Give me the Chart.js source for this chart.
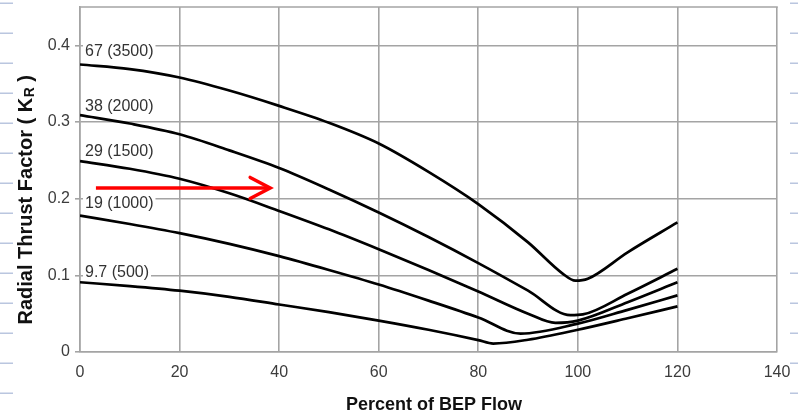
<!DOCTYPE html>
<html><head><meta charset="utf-8">
<script src="https://cdn.jsdelivr.net/npm/chart.js@4.4.1/dist/chart.umd.min.js"></script>
<style>html,body{margin:0;padding:0;background:#fff;}</style>
</head><body>
<canvas id="c" width="798" height="412"></canvas>
<script>
// ---- data ----
const seriesNames = ['67 (3500)', '38 (2000)', '29 (1500)', '19 (1000)', '9.7 (500)'];

const x67 = [0, 10, 20, 30, 40, 50, 60, 70, 80, 90, 97, 99.5, 102, 110, 120];
const y67 = [0.375, 0.369, 0.358, 0.341, 0.321, 0.299, 0.272, 0.235, 0.193, 0.143, 0.102, 0.093, 0.0955, 0.130, 0.169];

const x38 = [0, 10, 20, 30, 40, 50, 60, 70, 80, 90, 98.5, 101, 110, 120];
const y38 = [0.309, 0.298, 0.284, 0.263, 0.240, 0.212, 0.182, 0.150, 0.116, 0.080, 0.048, 0.049, 0.076, 0.1085];

const x29 = [0, 10, 20, 30, 40, 50, 60, 70, 80, 90, 95.5, 100, 110, 120];
const y29 = [0.249, 0.239, 0.226, 0.207, 0.184, 0.160, 0.134, 0.107, 0.079, 0.050, 0.038, 0.041, 0.065, 0.091];

const x19 = [0, 10, 20, 30, 40, 50, 60, 70, 80, 88.5, 100, 110, 120];
const y19 = [0.178, 0.167, 0.155, 0.141, 0.125, 0.107, 0.088, 0.067, 0.045, 0.024, 0.037, 0.055, 0.0738];

const x97 = [0, 10, 20, 30, 40, 50, 60, 70, 80, 83, 90, 100, 110, 120];
const y97 = [0.091, 0.086, 0.080, 0.072, 0.062, 0.052, 0.041, 0.029, 0.0155, 0.011, 0.016, 0.029, 0.044, 0.0595];

const seriesX = [x67, x38, x29, x19, x97];
const seriesY = [y67, y38, y29, y19, y97];

// curve label anchors (data units)
const labelX = [1, 1, 1, 1, 1];
const labelY = [0.392, 0.3197, 0.2616, 0.1931, 0.1041];

const xTickValues = [0, 20, 40, 60, 80, 100, 120, 140];
const xTickLabels = ['0', '20', '40', '60', '80', '100', '120', '140'];
const yTickValues = [0, 0.1, 0.2, 0.3, 0.4];
const yTickLabels = ['0', '0.1', '0.2', '0.3', '0.4'];
const yMax = 0.45;

const xTitle = 'Percent of BEP Flow';
const yTitleMain = 'Radial Thrust Factor ( K';
const yTitleSub = 'R';
const yTitleEnd = ' )';

// red arrow (data units)
const arrowFrom = [3.2, 0.214];
const arrowTo = [38.2, 0.214];

// ---- styles ----
const FONT = "'Liberation Sans', Arial, Helvetica, sans-serif";
const GRID = '#a4a4a4';

const datasets = seriesNames.map((name, i) => ({
  label: name,
  data: seriesX[i].map((x, j) => ({ x: x, y: seriesY[i][j] })),
  borderColor: '#000',
  borderWidth: 2.7,
  pointRadius: 0,
  fill: false,
  showLine: true,
  cubicInterpolationMode: 'monotone'
}));

const decor = {
  id: 'decor',
  beforeDraw(chart) {
    const ctx = chart.ctx;
    ctx.save();
    ctx.fillStyle = '#fff';
    ctx.fillRect(0, 0, chart.width, chart.height);
    ctx.strokeStyle = '#bac6df';
    ctx.lineWidth = 1.5;
    for (let y = 3.3; y < chart.height; y += 30) {
      ctx.beginPath();
      ctx.moveTo(0, y); ctx.lineTo(13, y);
      ctx.moveTo(790, y); ctx.lineTo(chart.width, y);
      ctx.stroke();
    }
    ctx.restore();
  },
  beforeDatasetsDraw(chart) {
    const ctx = chart.ctx;
    const xs = chart.scales.x, ys = chart.scales.y;
    const a = chart.chartArea;
    ctx.save();
    // top frame line at yMax
    ctx.strokeStyle = GRID;
    ctx.lineWidth = 1.6;
    ctx.beginPath();
    ctx.moveTo(a.left, ys.getPixelForValue(yMax));
    ctx.lineTo(a.right + 0.8, ys.getPixelForValue(yMax));
    ctx.stroke();
    ctx.font = '16px ' + FONT;
    ctx.textBaseline = 'middle';
    ctx.textAlign = 'left';
    seriesNames.forEach((t, i) => {
      const px = xs.getPixelForValue(labelX[i]);
      const py = ys.getPixelForValue(labelY[i]);
      const w = ctx.measureText(t).width;
      ctx.fillStyle = '#fff';
      ctx.fillRect(px - 2, py - 8.5, w + 4, 17);
      ctx.fillStyle = '#333';
      ctx.fillText(t, px, py);
    });
    ctx.restore();
  },
  afterDatasetsDraw(chart) {
    const ctx = chart.ctx;
    const xs = chart.scales.x, ys = chart.scales.y;
    const x0 = xs.getPixelForValue(arrowFrom[0]), y0 = ys.getPixelForValue(arrowFrom[1]);
    const x1 = xs.getPixelForValue(arrowTo[0]), y1 = ys.getPixelForValue(arrowTo[1]);
    ctx.save();
    ctx.strokeStyle = '#ff0000';
    ctx.lineWidth = 3.5;
    ctx.lineCap = 'butt';
    ctx.beginPath();
    ctx.moveTo(x0, y0); ctx.lineTo(x1 - 1, y1);
    ctx.stroke();
    ctx.lineCap = 'round';
    ctx.lineJoin = 'miter';
    ctx.beginPath();
    ctx.moveTo(x1 - 20, y1 - 10.5);
    ctx.lineTo(x1, y1);
    ctx.lineTo(x1 - 20, y1 + 10.5);
    ctx.stroke();
    ctx.restore();
  },
  afterDraw(chart) {
    const ctx = chart.ctx;
    ctx.save();
    ctx.fillStyle = '#111';
    ctx.font = 'bold 18px ' + FONT;
    ctx.textAlign = 'center';
    ctx.textBaseline = 'alphabetic';
    ctx.fillText(xTitle, 434, 410);
    // y title rotated
    ctx.translate(32, 200);
    ctx.rotate(-Math.PI / 2);
    ctx.textAlign = 'left';
    const fMain = 'bold 20px ' + FONT, fSub = 'bold 14px ' + FONT;
    ctx.font = fMain; const w1 = ctx.measureText(yTitleMain).width;
    ctx.font = fSub; const w2 = ctx.measureText(yTitleSub).width;
    ctx.font = fMain; const w3 = ctx.measureText(yTitleEnd).width;
    let sx = -(w1 + w2 + w3) / 2;
    ctx.font = fMain; ctx.fillText(yTitleMain, sx, 0); sx += w1;
    ctx.font = fSub; ctx.fillText(yTitleSub, sx + 0.5, 1.5); sx += w2 + 0.5;
    ctx.font = fMain; ctx.fillText(yTitleEnd, sx, 0);
    ctx.restore();
  }
};

function noPad(s) {
  s.paddingTop = 0; s.paddingBottom = 0; s.paddingLeft = 0; s.paddingRight = 0;
}

new Chart(document.getElementById('c'), {
  type: 'scatter',
  data: { datasets: datasets },
  options: {
    responsive: false,
    animation: false,
    devicePixelRatio: 1,
    layout: { padding: { top: 7, right: 21, left: 0, bottom: 0 } },
    plugins: { legend: { display: false }, tooltip: { enabled: false } },
    scales: {
      x: {
        type: 'linear', min: 0, max: 140,
        afterBuildTicks: s => { s.ticks = xTickValues.map(v => ({ value: v })); },
        afterFit: s => { s.height = 60; noPad(s); },
        ticks: {
          callback: v => { const i = xTickValues.indexOf(v); return i >= 0 ? xTickLabels[i] : ''; },
          font: { size: 16, family: FONT }, color: '#3c3c3c', padding: 11,
          maxRotation: 0, autoSkip: false
        },
        grid: { color: GRID, lineWidth: 1.6, drawTicks: false },
        border: { color: GRID, width: 1.6 }
      },
      y: {
        type: 'linear', min: 0, max: yMax,
        afterBuildTicks: s => { s.ticks = yTickValues.map(v => ({ value: v })); },
        afterFit: s => { s.width = 80; noPad(s); },
        ticks: {
          callback: v => { const i = yTickValues.indexOf(v); return i >= 0 ? yTickLabels[i] : ''; },
          font: { size: 16, family: FONT }, color: '#3c3c3c', padding: 5, autoSkip: false
        },
        grid: { color: GRID, lineWidth: 1.6, drawTicks: true, tickLength: 5 },
        border: { color: GRID, width: 1.6 }
      }
    }
  },
  plugins: [decor]
});
</script>
</body></html>
